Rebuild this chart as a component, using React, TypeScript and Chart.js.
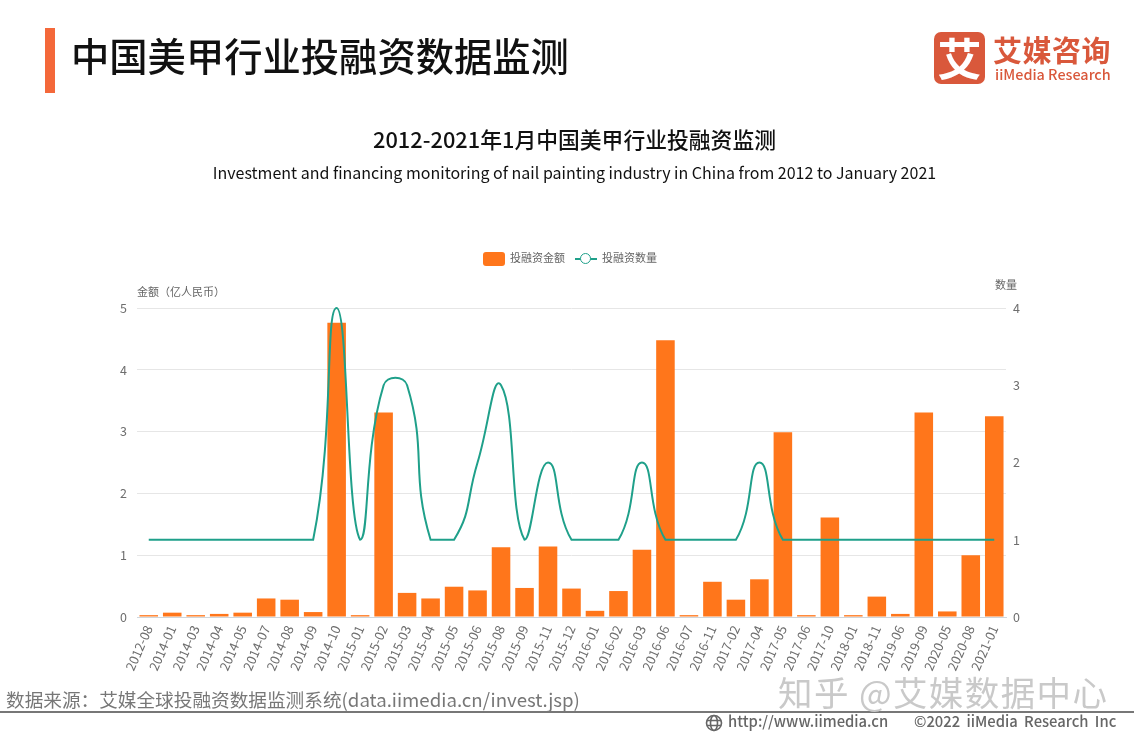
import React, { useEffect, useRef } from 'react';
import { Chart, registerables } from 'chart.js';

Chart.register(...registerables);

const months = [
    '2012-08', '2014-01', '2014-03', '2014-04', '2014-05', '2014-07', '2014-08', '2014-09', '2014-10',
    '2015-01', '2015-02', '2015-03', '2015-04', '2015-05', '2015-06', '2015-08', '2015-09', '2015-11', '2015-12',
    '2016-01', '2016-02', '2016-03', '2016-06', '2016-07', '2016-11',
    '2017-02', '2017-04', '2017-05', '2017-06', '2017-10',
    '2018-01', '2018-11', '2019-06', '2019-09', '2020-05', '2020-08', '2021-01',
];
const amounts = [
    0.03, 0.07, 0.03, 0.05, 0.07, 0.3, 0.28, 0.08, 4.76,
    0.03, 3.31, 0.39, 0.3, 0.49, 0.43, 1.13, 0.47, 1.14, 0.46,
    0.1, 0.42, 1.09, 4.48, 0.03, 0.57,
    0.28, 0.61, 2.99, 0.03, 1.61,
    0.03, 0.33, 0.05, 3.31, 0.09, 1.0, 3.25,
];
const counts = [
    1, 1, 1, 1, 1, 1, 1, 1, 4,
    1, 3, 3, 1, 1, 2, 3, 1, 2, 1,
    1, 1, 2, 1, 1, 1,
    1, 2, 1, 1, 1,
    1, 1, 1, 1, 1, 1, 1,
];

const FONT = '"Noto Sans CJK SC", "Noto Sans", sans-serif';
const ORANGE = '#ff761b';
const GREEN = '#1fa08a';
const BRAND = '#d9583b';

// keep bezier handles inside the data's y range so the flat runs don't dip below 1
const clampCurve = {
    id: 'clampCurve',
    beforeDatasetDraw(chart: Chart, args: { index: number; meta: any }) {
        const { meta } = args;
        if (meta.type !== 'line') {
            return;
        }
        meta.dataset.updateControlPoints(chart.chartArea);
        const ys = meta.data.map((p: any) => p.y);
        const top = Math.min(...ys);
        const bottom = Math.max(...ys);
        meta.data.forEach((p: any) => {
            p.cp1y = Math.min(bottom, Math.max(top, p.cp1y));
            p.cp2y = Math.min(bottom, Math.max(top, p.cp2y));
        });
    },
};

const abs = (left: number, top: number, extra: React.CSSProperties): React.CSSProperties => ({
    position: 'absolute',
    left,
    top,
    whiteSpace: 'nowrap',
    lineHeight: 1,
    ...extra,
});

const App: React.FC = () => {
    const chartRef = useRef<HTMLCanvasElement | null>(null);

    useEffect(() => {
        const ctx = chartRef.current?.getContext('2d');
        if (!ctx) {
            return;
        }

        const myChart = new Chart(ctx, {
            type: 'bar',
            plugins: [clampCurve],
            data: {
                labels: months,
                datasets: [
                    {
                        type: 'line',
                        label: '投融资数量',
                        data: counts,
                        yAxisID: 'yCount',
                        borderColor: GREEN,
                        borderWidth: 2,
                        tension: 0.5,
                        pointRadius: 0,
                        clip: false,
                        order: 0,
                    },
                    {
                        type: 'bar',
                        label: '投融资金额',
                        data: amounts,
                        yAxisID: 'yAmount',
                        backgroundColor: ORANGE,
                        barPercentage: 0.79,
                        categoryPercentage: 1,
                        order: 1,
                    },
                ],
            },
            options: {
                responsive: false,
                animation: false,
                layout: { padding: { top: 308 } },
                plugins: { legend: { display: false }, tooltip: { enabled: false } },
                scales: {
                    x: {
                        afterFit: (scale) => { scale.height = 120; },
                        grid: { display: false, drawTicks: true, tickLength: 4, tickColor: '#cfd6dc' },
                        border: { color: '#cfd6dc' },
                        ticks: {
                            autoSkip: false,
                            minRotation: 66,
                            maxRotation: 66,
                            padding: 2,
                            color: '#6e6e6e',
                            font: { family: FONT, size: 13 },
                        },
                    },
                    yAmount: {
                        position: 'left',
                        min: 0,
                        max: 5,
                        afterFit: (scale) => { scale.width = 137; },
                        grid: { color: '#e6e6e6', drawTicks: false },
                        border: { display: false },
                        ticks: { stepSize: 1, padding: 10, color: '#6e6e6e', font: { family: FONT, size: 12.5 } },
                    },
                    yCount: {
                        position: 'right',
                        min: 0,
                        max: 4,
                        afterFit: (scale) => { scale.width = 128; },
                        grid: { display: false, drawTicks: false },
                        border: { display: false },
                        ticks: { stepSize: 1, padding: 7, color: '#6e6e6e', font: { family: FONT, size: 12.5 } },
                    },
                },
            },
        });

        return () => {
            myChart.destroy();
        };
    }, []);

    return (
        <div style={{ position: 'absolute', left: 0, top: 0, width: 1134, height: 737, background: '#fff', overflow: 'hidden', fontFamily: FONT }}>
            <canvas ref={chartRef} width={1134} height={737} style={{ position: 'absolute', left: 0, top: 0 }} />

            {/* header */}
            <div style={{ position: 'absolute', left: 45, top: 28, width: 10, height: 65, background: '#f4683a' }} />
            <div style={abs(71, 36, { fontSize: 38.3, fontWeight: 500, color: '#111' })}>中国美甲行业投融资数据监测</div>

            {/* logo */}
            <div style={{ position: 'absolute', left: 934, top: 32, width: 51, height: 52, borderRadius: 7, background: BRAND, color: '#fff', fontSize: 44, fontWeight: 700, lineHeight: '50px', textAlign: 'center' }}>艾</div>
            <div style={abs(993, 35, { fontSize: 29, fontWeight: 700, color: BRAND, letterSpacing: 0.5 })}>艾媒咨询</div>
            <div style={abs(995, 67, { fontSize: 14.4, fontWeight: 500, color: BRAND })}>iiMedia Research</div>

            {/* titles */}
            <div style={{ ...abs(0, 128, { fontSize: 21.8, fontWeight: 500, color: '#111' }), width: 1149, textAlign: 'center' }}>2012-2021年1月中国美甲行业投融资监测</div>
            <div style={{ ...abs(0, 164, { fontSize: 16, color: '#111' }), width: 1149, textAlign: 'center' }}>Investment and financing monitoring of nail painting industry in China from 2012 to January 2021</div>

            {/* legend */}
            <div style={{ position: 'absolute', left: 483, top: 252, width: 22, height: 14, borderRadius: 3, background: ORANGE }} />
            <div style={abs(510, 252, { fontSize: 11, color: '#666' })}>投融资金额</div>
            <div style={{ position: 'absolute', left: 575, top: 258, width: 22, height: 1.5, background: GREEN }} />
            <div style={{ position: 'absolute', left: 580, top: 253, width: 9, height: 9, borderRadius: '50%', border: `1.5px solid ${GREEN}`, background: '#fff' }} />
            <div style={abs(602, 252, { fontSize: 11, color: '#666' })}>投融资数量</div>

            {/* axis names */}
            <div style={abs(137, 286, { fontSize: 11, color: '#666' })}>金额（亿人民币）</div>
            <div style={abs(995, 279, { fontSize: 11, color: '#666' })}>数量</div>

            {/* footer */}
            <div style={abs(6, 690, { fontSize: 18.65, color: '#777' })}>数据来源：艾媒全球投融资数据监测系统(data.iimedia.cn/invest.jsp)</div>
            <div style={{ position: 'absolute', left: 0, top: 711, width: 1134, height: 2, background: '#777' }} />
            <svg width={18} height={18} viewBox="0 0 18 18" style={{ position: 'absolute', left: 705, top: 714 }} fill="none" stroke="#666" strokeWidth={1.6}>
                <circle cx={9} cy={9} r={7.5} />
                <ellipse cx={9} cy={9} rx={3.5} ry={7.5} />
                <path d="M2 6.5h14M2 11.5h14" />
            </svg>
            <div style={abs(728, 714, { fontSize: 14.8, fontWeight: 500, color: '#666' })}>http://www.iimedia.cn</div>
            <div style={abs(914, 714, { fontSize: 14.8, fontWeight: 500, color: '#666', wordSpacing: 3 })}>©2022 iiMedia Research Inc</div>

            {/* watermark */}
            <div style={abs(778, 674, { fontSize: 34.5, color: '#c9c9c9', letterSpacing: 1.4 })}>知乎 @艾媒数据中心</div>
        </div>
    );
};

export default App;
